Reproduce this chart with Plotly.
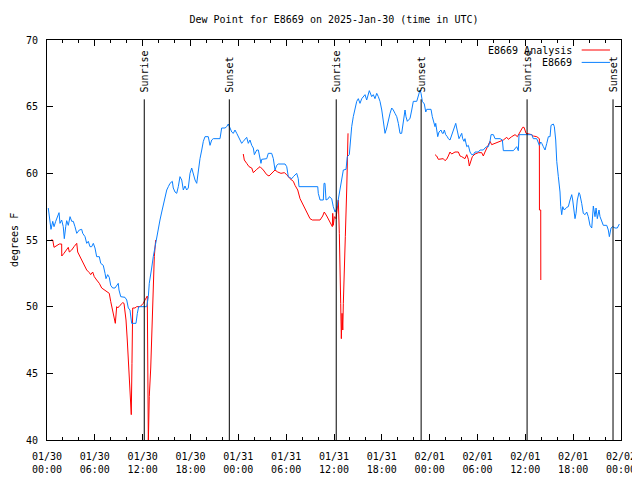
import plotly.graph_objects as go
from datetime import datetime, timedelta

BASE = datetime(2025, 1, 30)

# E8669 observations (hours after 2025-01-30 00:00 UTC, deg F)
obs_hours = [0.16, 0.29, 0.50, 0.72, 0.88, 1.09, 1.29, 1.51, 1.63, 1.84, 2.04, 2.17, 2.35, 2.47, 2.67, 2.89, 3.10, 3.30, 3.51, 3.73,
             4.05, 4.35, 4.48, 4.77, 4.98, 5.18, 5.39, 5.61, 5.81, 6.02, 6.23, 6.56, 6.74, 7.06, 7.28, 7.40, 7.61, 7.81, 7.99, 8.24,
             8.53, 8.74, 8.94, 9.03, 9.25, 9.78, 10.0, 10.2, 10.41, 10.62, 11.16, 11.33, 11.50, 12.51, 12.71, 12.83, 12.92, 13.13, 13.33, 13.55,
             13.76, 13.96, 14.17, 14.39, 14.59, 14.80, 15.02, 15.22, 15.43, 15.72, 15.84, 16.06, 16.27, 16.47, 16.68, 16.90, 17.10, 17.31, 17.52, 17.72,
             17.94, 18.15, 18.35, 18.57, 18.78, 18.98, 19.19, 19.41, 19.61, 19.82, 20.23, 20.45, 20.66, 20.86, 21.70, 21.91, 22.33, 22.54, 22.74, 22.96,
             23.17, 23.37, 23.58, 23.80, 24.00, 24.21, 24.42, 24.62, 24.84, 25.05, 25.25, 25.46, 25.68, 25.88, 26.01, 26.31, 26.51, 26.72, 26.84, 26.93,
             27.56, 27.76, 28.18, 28.39, 28.51, 28.60, 28.81, 29.01, 29.86, 30.07, 30.27, 30.70, 30.90, 31.11, 31.32, 31.52, 31.61, 33.96, 34.03, 34.25,
             34.66, 34.75, 34.87, 35.00, 35.29, 35.41, 35.71, 35.91, 36.13, 36.34, 36.54, 36.75, 36.97, 37.17, 37.51, 37.67, 37.92, 38.10, 38.22, 38.42,
             38.64, 38.85, 39.05, 39.26, 39.48, 39.68, 39.89, 40.10, 40.30, 40.43, 40.73, 40.93, 41.14, 41.36, 41.56, 41.77, 41.99, 42.19, 42.40, 42.61,
             42.81, 43.03, 43.24, 43.44, 43.65, 43.87, 44.07, 44.28, 44.49, 44.69, 44.91, 45.03, 45.20, 45.32, 45.53, 45.75, 45.95, 46.38, 46.58, 46.79,
             46.92, 47.08, 47.33, 47.51, 47.63, 48.17, 48.33, 48.55, 48.67, 48.76, 48.88, 49.01, 49.17, 49.42, 49.59, 49.71, 49.84, 50.01, 50.21, 50.34,
             50.55, 50.76, 50.97, 51.09, 51.27, 51.39, 51.52, 51.68, 51.81, 52.02, 52.14, 52.31, 52.43, 52.65, 52.85, 53.06, 53.27, 53.48, 53.69, 54.10,
             54.32, 54.73, 54.94, 55.16, 55.36, 55.57, 55.70, 55.99, 56.20, 56.83, 57.12, 57.24, 58.50, 58.71, 58.92, 59.12, 59.21, 60.80, 61.00, 61.43,
             61.63, 61.76, 61.93, 62.06, 62.26, 62.47, 62.69, 62.89, 63.10, 63.22, 63.51, 63.64, 63.81, 63.94, 64.14, 64.35, 64.44, 64.56, 64.69, 64.89,
             65.19, 65.39, 65.61, 65.82, 65.94, 66.11, 66.23, 66.36, 66.52, 66.73, 66.85, 67.07, 67.27, 67.49, 67.70, 67.90, 68.11, 68.33, 68.45, 68.53,
             68.74, 68.87, 69.03, 69.24, 69.37, 69.58, 69.78, 70.21, 70.41, 70.54, 70.75, 70.96, 71.25, 71.54, 71.79]
obs_vals = [57.4, 56.9, 55.8, 56.4, 56.0, 56.4, 56.75, 57.05, 56.25, 56.5, 56.0, 55.1, 56.0, 56.45, 56.1, 56.75, 56.4, 56.4, 56.0, 55.5,
            55.75, 55.8, 55.5, 55.25, 54.75, 54.9, 54.5, 54.5, 54.75, 54.4, 53.75, 53.75, 53.25, 53.1, 52.5, 52.1, 52.4, 52.2, 51.6, 51.4,
            51.4, 51.6, 51.75, 51.25, 50.75, 50.7, 50.5, 49.9, 49.75, 48.75, 48.75, 49.5, 50.0, 50.0, 50.75, 51.75, 52.25, 52.9, 53.75, 54.5,
            55.25, 56.0, 56.5, 57.1, 57.6, 58.0, 58.75, 59.0, 59.25, 59.4, 58.9, 58.6, 58.5, 59.0, 59.75, 59.5, 58.75, 59.05, 58.75, 58.9,
            60.0, 60.4, 59.9, 59.5, 59.25, 60.25, 61.1, 61.75, 62.4, 62.75, 62.75, 62.1, 62.5, 62.6, 62.6, 63.4, 63.4, 63.5, 63.7, 63.4,
            63.1, 63.0, 63.25, 63.0, 62.75, 62.6, 62.25, 62.4, 62.6, 62.7, 62.25, 62.5, 62.1, 61.9, 61.4, 61.75, 61.75, 61.0, 60.75, 61.05,
            61.1, 61.5, 61.5, 61.1, 60.6, 60.25, 60.6, 60.7, 60.7, 60.5, 59.75, 59.6, 59.75, 59.9, 60.0, 59.6, 59.0, 59.0, 58.5, 58.0,
            58.0, 59.25, 59.25, 58.0, 58.1, 58.25, 58.1, 57.5, 57.1, 57.35, 58.0, 58.75, 59.5, 60.25, 60.3, 61.25, 61.4, 62.75, 63.5, 64.25,
            64.9, 65.4, 65.6, 65.25, 65.6, 65.75, 65.9, 65.5, 65.9, 66.2, 65.75, 65.9, 65.6, 66.0, 65.75, 65.4, 64.75, 63.9, 63.0, 63.4,
            64.0, 64.5, 64.9, 64.75, 64.5, 64.25, 63.75, 63.0, 63.0, 64.0, 64.75, 64.25, 63.9, 64.0, 64.1, 64.75, 65.4, 65.4, 65.9, 66.25,
            66.0, 65.4, 65.2, 64.6, 64.8, 64.8, 64.25, 63.6, 63.5, 63.75, 63.25, 62.75, 63.1, 63.25, 63.0, 63.0, 63.25, 62.9, 62.75, 62.6,
            62.5, 62.9, 63.25, 63.5, 63.75, 63.4, 63.0, 62.6, 62.75, 63.0, 62.6, 62.4, 62.6, 62.0, 62.1, 61.6, 61.4, 61.4, 61.6, 61.6,
            61.75, 61.75, 61.9, 62.0, 62.0, 62.4, 62.9, 62.9, 62.6, 62.6, 62.5, 61.7, 61.7, 61.9, 62.0, 61.7, 62.9, 62.9, 62.6, 62.6,
            62.35, 62.1, 62.35, 62.25, 62.0, 61.75, 62.25, 62.75, 62.75, 63.6, 63.7, 63.5, 62.5, 60.9, 59.75, 58.6, 57.5, 56.9, 57.5, 57.25,
            57.45, 57.5, 58.0, 58.4, 58.0, 57.0, 56.6, 57.0, 58.0, 58.55, 58.4, 57.75, 57.0, 56.9, 57.1, 56.75, 56.1, 55.9, 56.6, 57.55,
            56.75, 57.4, 56.6, 57.25, 56.75, 56.4, 56.1, 56.1, 55.75, 55.25, 55.9, 56.0, 55.9, 55.9, 56.2]

# E8669 Analysis (None = gap)
ana_hours = [0.50, 0.72, 0.88, 1.22, 1.54, 1.84, 1.85, 2.13, 2.38, 2.67, 2.80, 3.10, 3.39, 3.73, 3.85, 4.14, 4.48, 4.77, 4.98, 5.31,
             5.48, 5.73, 5.93, 6.23, 6.56, 6.86, 7.28, 7.61, 7.81, 7.99, 8.24, 8.40, 8.57, 8.74, 8.87, 9.16, 9.50, 9.66, 9.91, 10.07,
             10.20, 10.32, 10.41, 10.50, 10.57, 10.66, 10.75, 11.04, 11.25, 11.67, 11.88, 12.08, 12.29, 12.58, 12.71, 12.83, 13.01, 13.13, 13.26, 13.33,
             13.46, 13.63, None,
             24.62, 24.75, 25.05, 25.34, 25.68, 25.88, 26.31, 26.72, 27.13, 27.56, 27.85, 28.18, 28.60, 28.94, 29.35, 29.77, 30.07, 30.48, 30.90, 31.11,
             31.45, 31.74, 32.15, 32.58, 32.99, 33.28, 34.25, 34.58, 34.78, 35.09, 35.37, 35.62, 35.79, 35.84, 35.91, 36.04, 36.25, 36.54, 36.67, 36.84,
             36.92, 37.01, 37.10, 37.17, 37.26, 37.42, 37.60, 37.76, None,
             48.67, 48.88, 49.09, 49.42, 49.71, 49.92, 50.13, 50.34, 50.55, 50.76, 50.97, 51.18, 51.60, 51.81, 52.02, 52.22, 52.43, 52.65, 52.85, 52.97,
             53.19, 53.35, 53.69, 54.10, 54.53, 54.73, 54.94, 55.28, 55.57, 55.78, 56.20, 56.61, 57.04, 57.24, 57.67, 57.87, 58.29, 58.71, 59.00, 59.34,
             59.67, 59.84, 60.09, 60.80, 61.00, 61.43, 61.76, 61.77, 61.93, 61.94]
ana_vals = [55.0, 55.0, 54.45, 54.55, 54.7, 54.7, 53.8, 54.0, 54.25, 54.45, 54.1, 54.25, 54.5, 54.75, 54.1, 53.75, 53.4, 53.0, 52.75, 52.55,
            52.4, 52.6, 52.25, 52.0, 51.75, 51.4, 51.25, 51.1, 51.0, 50.4, 49.75, 49.25, 48.75, 50.0, 49.9, 50.1, 50.3, 50.25, 49.0, 47.5,
            46.25, 45.0, 43.75, 42.5, 41.9, 45.75, 49.9, 49.9, 50.0, 50.0, 50.1, 50.25, 50.5, 50.8, 39.8, 43.25, 45.4, 47.5, 49.5, 51.6,
            53.75, 55.0, None,
            61.45, 61.0, 60.75, 60.5, 60.4, 60.05, 60.3, 60.5, 60.25, 59.9, 59.8, 60.0, 60.25, 60.1, 60.0, 60.05, 59.9, 59.6, 59.4, 59.1,
            58.75, 58.1, 57.6, 57.1, 56.6, 56.5, 56.5, 56.8, 57.1, 56.8, 56.5, 56.25, 56.0, 57.0, 56.1, 56.75, 56.6, 58.0, 55.5, 50.25,
            47.6, 49.5, 48.25, 50.25, 52.75, 55.25, 58.9, 63.0, None,
            61.4, 61.3, 61.05, 61.05, 61.1, 60.95, 61.05, 61.3, 61.6, 61.45, 61.5, 61.6, 61.6, 61.3, 61.25, 61.2, 61.1, 61.4, 61.05, 60.55,
            61.0, 61.25, 61.45, 61.55, 61.55, 61.3, 61.6, 62.0, 62.4, 62.15, 62.25, 62.4, 62.5, 62.5, 62.7, 62.55, 62.75, 62.9, 62.75, 63.1,
            63.45, 63.45, 63.0, 62.9, 62.8, 62.75, 62.6, 57.25, 57.25, 52.0]

# Sun events (hours after base)
sun_labels = ["Sunrise", "Sunset", "Sunrise", "Sunset", "Sunrise", "Sunset"]
sun_hours = [12.20, 22.87, 36.28, 46.93, 60.22, 71.00]

tick_hours = list(range(0, 73, 6))
tick_text = ["01/30<br>00:00", "01/30<br>06:00", "01/30<br>12:00", "01/30<br>18:00",
             "01/31<br>00:00", "01/31<br>06:00", "01/31<br>12:00", "01/31<br>18:00",
             "02/01<br>00:00", "02/01<br>06:00", "02/01<br>12:00", "02/01<br>18:00",
             "02/02<br>00:00"]

def t(h):
    return None if h is None else BASE + timedelta(hours=h)

FONT = "DejaVu Sans Mono"
FS = 10
BLUE = "#0a80ff"
RED = "#ff0000"

fig = go.Figure()
fig.add_trace(go.Scatter(x=[t(h) for h in ana_hours], y=ana_vals, mode="lines",
                         line=dict(color=RED, width=1), name="E8669 Analysis",
                         connectgaps=False, showlegend=False))
fig.add_trace(go.Scatter(x=[t(h) for h in obs_hours], y=obs_vals, mode="lines",
                         line=dict(color=BLUE, width=1), name="E8669", showlegend=False))

shapes = []
annotations = []
for lab, h in zip(sun_labels, sun_hours):
    shapes.append(dict(type="line", xref="x", yref="y", x0=t(h), x1=t(h), y0=40, y1=65.55,
                       line=dict(color="black", width=1)))
    annotations.append(dict(x=t(h), y=65.55, xref="x", yref="y", text=lab, textangle=-90,
                            showarrow=False, xanchor="center", yanchor="bottom", yshift=5,
                            font=dict(family=FONT, size=FS, color="black")))

# legend (gnuplot style: text then sample)
leg = [("E8669 Analysis", RED, 0.975), ("E8669", BLUE, 0.944)]
for name, col, yy in leg:
    annotations.append(dict(x=0.918, y=yy, xref="paper", yref="paper", text=name, showarrow=False,
                            xanchor="right", yanchor="middle",
                            font=dict(family=FONT, size=FS, color="black")))
    shapes.append(dict(type="line", xref="paper", yref="paper", x0=0.9315, x1=0.9808, y0=yy, y1=yy,
                       line=dict(color=col, width=1)))

# y-axis title placed like gnuplot's
annotations.append(dict(x=-33 / 574, y=0.5, xref="paper", yref="paper", text="degrees F",
                        textangle=-90, showarrow=False, xanchor="center", yanchor="middle",
                        font=dict(family=FONT, size=FS, color="black")))

# page body has an 8px margin: shrink figure so plot area lands at x 47..621, y 40..440
fig.update_layout(
    width=632, height=472,
    margin=dict(l=39, r=19, t=32, b=40),
    paper_bgcolor="white", plot_bgcolor="white",
    font=dict(family=FONT, size=FS, color="black"),
    title=dict(text="Dew Point for E8669 on 2025-Jan-30 (time in UTC)", x=0.5, xref="paper",
               xanchor="center", y=1 - 11 / 472, yanchor="middle",
               font=dict(family=FONT, size=FS, color="black")),
    shapes=shapes, annotations=annotations, showlegend=False,
)
fig.update_xaxes(
    type="date", range=[t(0), t(72)], automargin=False,
    tickmode="array", tickvals=[t(h) for h in tick_hours], ticktext=tick_text,
    ticks="inside", ticklen=6, tickcolor="black", tickwidth=1,
    minor=dict(ticks="inside", ticklen=3, dtick=2 * 3600 * 1000, tick0=t(0), tickcolor="black"),
    showline=True, linecolor="black", linewidth=1, mirror="ticks",
    showgrid=False, zeroline=False, ticklabelstandoff=7,
    tickfont=dict(family=FONT, size=FS),
)
fig.update_yaxes(
    range=[40, 70], tickmode="linear", tick0=40, dtick=5, automargin=False,
    ticks="inside", ticklen=6, tickcolor="black", tickwidth=1,
    showline=True, linecolor="black", linewidth=1, mirror="ticks",
    showgrid=False, zeroline=False, ticklabelstandoff=6,
    tickfont=dict(family=FONT, size=FS),
)

fig.write_html("out.html")
